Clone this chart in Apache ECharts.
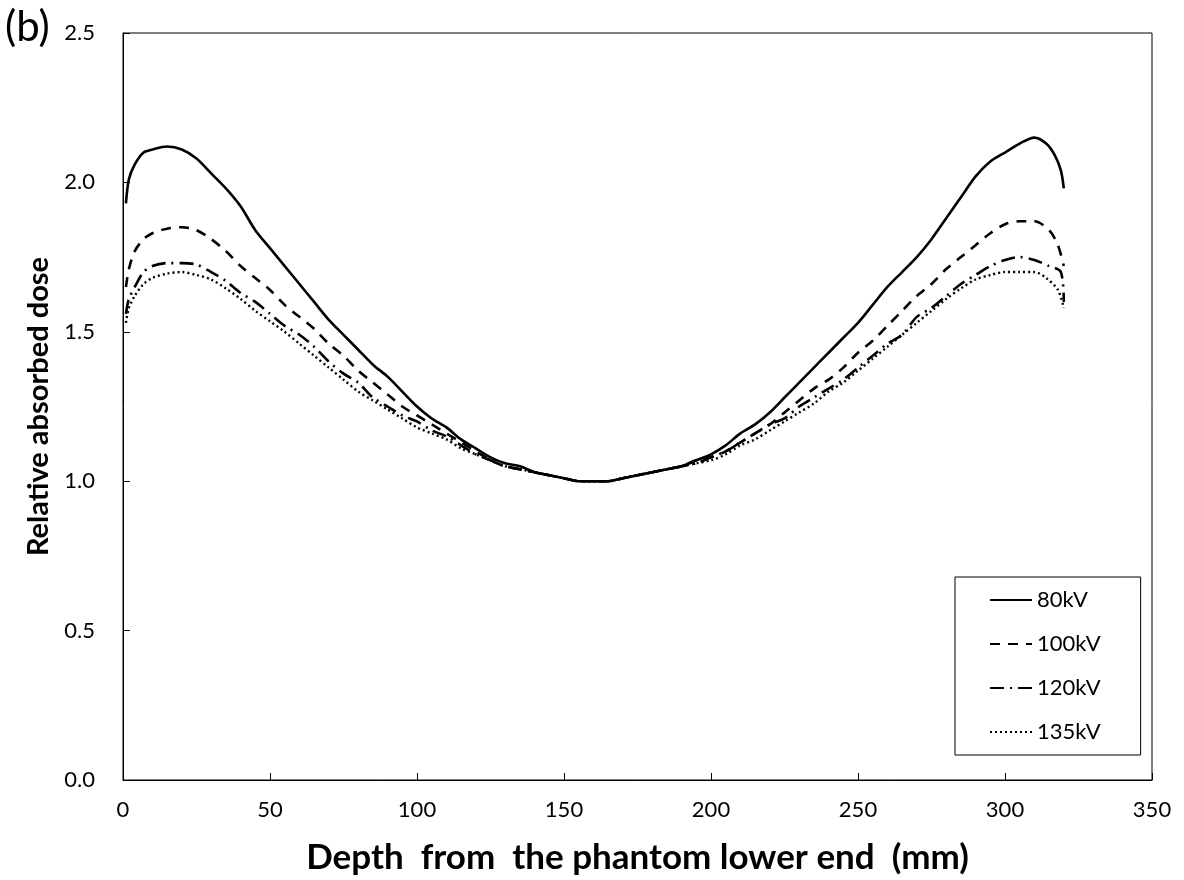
<!DOCTYPE html>
<html>
<head>
<meta charset="utf-8">
<script src="https://cdn.jsdelivr.net/npm/echarts@6/dist/echarts.min.js"></script>
<style>
html,body{margin:0;padding:0;background:#fff;}
#c{width:1184px;height:880px;}
</style>
</head>
<body>
<div id="c"></div>
<script>
// ---- data ----
const seriesNames = ['80kV', '100kV', '120kV', '135kV'];

const depth80 = [1,2,4,7,10,15,20,25,30,35,40,45,50,55,60,65,70,75,80,85,90,95,100,105,110,115,120,125,130,135,140,145,150,155,160,165,170,175,180,185,190,195,200,205,210,215,220,225,230,235,240,245,250,255,260,265,270,275,280,285,290,295,300,305,310,314,317,319,320];
const dose80 = [1.93,2.01,2.06,2.10,2.11,2.12,2.11,2.08,2.03,1.98,1.92,1.84,1.78,1.72,1.66,1.60,1.54,1.49,1.44,1.39,1.35,1.30,1.25,1.21,1.18,1.14,1.11,1.08,1.06,1.05,1.03,1.02,1.01,1.00,1.00,1.00,1.01,1.02,1.03,1.04,1.05,1.07,1.09,1.12,1.16,1.19,1.23,1.28,1.33,1.38,1.43,1.48,1.53,1.59,1.65,1.70,1.75,1.81,1.88,1.95,2.02,2.07,2.10,2.13,2.15,2.13,2.09,2.04,1.98];

const depth100 = [1,2,4,7,10,15,20,25,30,35,40,45,50,55,60,65,70,75,80,85,90,95,100,105,110,115,120,125,130,135,140,145,150,155,160,165,170,175,180,185,190,195,200,205,210,215,220,225,230,235,240,245,250,255,260,265,270,275,280,285,290,295,300,305,310,315,318,320];
const dose100 = [1.65,1.71,1.77,1.81,1.83,1.845,1.85,1.84,1.81,1.77,1.72,1.68,1.64,1.59,1.55,1.51,1.46,1.42,1.37,1.33,1.29,1.25,1.22,1.19,1.16,1.13,1.10,1.07,1.05,1.04,1.03,1.02,1.01,1.00,1.00,1.00,1.01,1.02,1.03,1.04,1.05,1.07,1.08,1.10,1.13,1.16,1.19,1.23,1.27,1.31,1.34,1.38,1.43,1.47,1.52,1.57,1.62,1.66,1.71,1.75,1.79,1.83,1.86,1.87,1.87,1.84,1.79,1.72];

const depth120 = [1,2,4,7,10,15,20,25,30,35,40,45,50,55,60,65,70,75,80,85,90,95,100,105,110,115,120,125,130,135,140,145,150,155,160,165,170,175,180,185,190,195,200,205,210,215,220,225,230,235,240,245,250,255,260,265,270,275,280,285,290,295,300,305,310,315,319,320];
const dose120 = [1.56,1.61,1.65,1.70,1.72,1.73,1.73,1.725,1.70,1.67,1.63,1.60,1.56,1.52,1.49,1.45,1.40,1.36,1.33,1.28,1.25,1.22,1.20,1.17,1.15,1.12,1.09,1.07,1.05,1.04,1.03,1.02,1.01,1.00,1.00,1.00,1.01,1.02,1.03,1.04,1.05,1.06,1.08,1.10,1.13,1.16,1.19,1.21,1.25,1.28,1.31,1.34,1.38,1.42,1.46,1.49,1.55,1.58,1.62,1.66,1.69,1.72,1.74,1.75,1.74,1.72,1.70,1.60];

const depth135 = [1,2,4,7,10,15,20,25,30,35,40,45,50,55,60,65,70,75,80,85,90,95,100,105,110,115,120,125,130,135,140,145,150,155,160,165,170,175,180,185,190,195,200,205,210,215,220,225,230,235,240,245,250,255,260,265,270,275,280,285,290,295,300,305,310,314,318,320];
const dose135 = [1.53,1.58,1.62,1.66,1.68,1.695,1.70,1.69,1.675,1.645,1.61,1.57,1.535,1.50,1.46,1.42,1.38,1.34,1.30,1.27,1.24,1.21,1.18,1.16,1.14,1.11,1.09,1.07,1.05,1.04,1.03,1.02,1.01,1.00,1.00,1.00,1.01,1.02,1.03,1.04,1.05,1.06,1.07,1.09,1.12,1.14,1.17,1.20,1.23,1.26,1.30,1.33,1.37,1.41,1.45,1.49,1.53,1.57,1.61,1.645,1.675,1.69,1.70,1.70,1.70,1.68,1.64,1.58];

const xTitle = 'Depth  from  the phantom lower end  (mm)';
const yTitle = 'Relative absorbed dose';
const panelLabel = '(b)';

// ---- chart ----
const font = 'Lato, "Open Sans", sans-serif';
function pairs(xs, ys){ return xs.map((x,i)=>[x, ys[i]]); }
const allDepths = [depth80, depth100, depth120, depth135];
const allDoses = [dose80, dose100, dose120, dose135];
const lineTypes = ['solid', [10, 8], [14, 6, 2, 6], [2, 3]];
const lineWidths = [2.6, 2.6, 2.6, 2.4];

const chart = echarts.init(document.getElementById('c'), null, {renderer: 'canvas'});
chart.setOption({
  backgroundColor: '#fff',
  animation: false,
  graphic: [{
    type: 'text', left: 5, top: 6,
    style: {text: panelLabel, font: '42px ' + font, fill: '#000'}
  }],
  grid: {left: 123, top: 33, right: 32, bottom: 99, show: true, borderColor: '#000', borderWidth: 1},
  legend: {
    orient: 'vertical', left: 955, top: 577,
    padding: [12, 40, 12, 34],
    itemGap: 22, itemWidth: 42, itemHeight: 20,
    borderColor: '#000', borderWidth: 1, backgroundColor: '#fff',
    itemStyle: {opacity: 0},
    textStyle: {fontFamily: font, fontSize: 22, color: '#000'},
    data: seriesNames
  },
  xAxis: {
    type: 'value', min: 0, max: 350, interval: 50,
    name: xTitle, nameLocation: 'middle', nameGap: 60,
    nameTextStyle: {fontFamily: font, fontSize: 35, fontWeight: 'bold', color: '#000'},
    axisLine: {lineStyle: {color: '#000', width: 1}},
    axisTick: {inside: true, length: 7, lineStyle: {color: '#000'}},
    axisLabel: {fontFamily: font, fontSize: 22, color: '#000', margin: 19},
    splitLine: {show: false}
  },
  yAxis: {
    type: 'value', min: 0, max: 2.5, interval: 0.5,
    name: yTitle, nameLocation: 'middle', nameGap: 70, nameRotate: 90,
    nameTextStyle: {fontFamily: font, fontSize: 29, fontWeight: 'bold', color: '#000'},
    axisLine: {lineStyle: {color: '#000', width: 1}},
    axisTick: {inside: true, length: 7, lineStyle: {color: '#000'}},
    axisLabel: {fontFamily: font, fontSize: 22, color: '#000', margin: 28,
      formatter: v => v.toFixed(1)},
    splitLine: {show: false}
  },
  series: seriesNames.map((n, i) => ({
    name: n, type: 'line', showSymbol: false, symbol: 'none',
    smooth: 0.3,
    data: pairs(allDepths[i], allDoses[i]),
    lineStyle: {color: '#000', width: lineWidths[i], type: lineTypes[i]},
    itemStyle: {color: '#000'}
  }))
});
</script>
</body>
</html>
